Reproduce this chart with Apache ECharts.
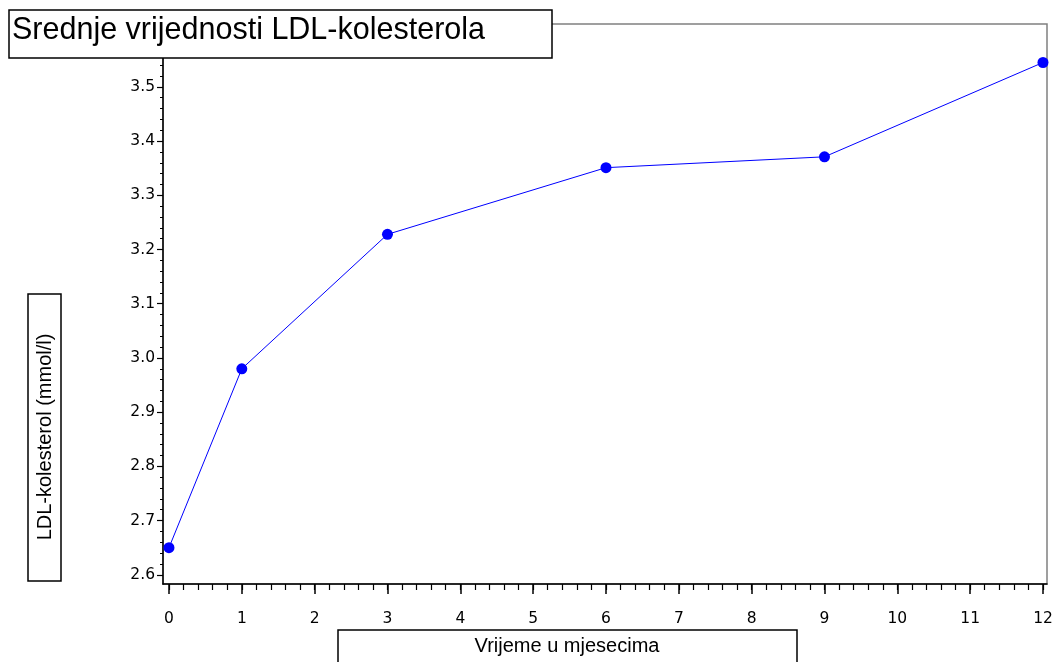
<!DOCTYPE html>
<html>
<head>
<meta charset="utf-8">
<script src="https://cdn.jsdelivr.net/npm/echarts@6/dist/echarts.min.js"></script>
<style>html,body{margin:0;padding:0;background:#fff}#c{width:1056px;height:662px}</style>
</head>
<body>
<div id="c"></div>
<script>
const titleText = 'Srednje vrijednosti LDL-kolesterola';
const xName = 'Vrijeme u mjesecima';
const yName = 'LDL-kolesterol (mmol/l)';
const months = [0, 1, 3, 6, 9, 12];
const ldl = [2.65, 2.98, 3.228, 3.351, 3.371, 3.545];
const xTicks = [0, 1, 2, 3, 4, 5, 6, 7, 8, 9, 10, 11, 12];
const yTicks = [2.6, 2.7, 2.8, 2.9, 3.0, 3.1, 3.2, 3.3, 3.4, 3.5];
const xMinorTicks = [];
for (let i = 0; i <= 60; i++) xMinorTicks.push(+(i * 0.2).toFixed(2));
const yMinorTicks = [];
for (let i = 0; i <= 50; i++) yMinorTicks.push(+(2.6 + i * 0.02).toFixed(2));

const FONT = 'Liberation Sans';
const TICKFONT = 'DejaVu Sans';
const chart = echarts.init(document.getElementById('c'));
const xMin = -0.082, xMax = 12.055, yMin = 2.583, yMax = 3.616;

chart.setOption({
  animation: false,
  title: {
    text: titleText, left: 12, top: 15, padding: 0, z: 20,
    textStyle: { fontFamily: FONT, fontSize: 30.5, fontWeight: 'normal', color: '#000' }
  },
  grid: {
    left: 163, right: 9, top: 24, bottom: 78,
    show: true, borderColor: '#808080', borderWidth: 1.5, backgroundColor: '#fff'
  },
  xAxis: [{
    type: 'value', min: xMin, max: xMax,
    axisLine: { show: true, onZero: false, lineStyle: { color: '#000', width: 1.5 } },
    axisTick: { show: true, length: 10, customValues: xTicks, lineStyle: { color: '#000', width: 1.5 } },
    axisLabel: { customValues: xTicks, margin: 27, fontFamily: TICKFONT, fontSize: 15.5, color: '#000' },
    splitLine: { show: false }
  }, {
    type: 'value', min: xMin, max: xMax, position: 'bottom',
    axisLine: { show: false, onZero: false },
    axisTick: { show: true, length: 6, customValues: xMinorTicks, lineStyle: { color: '#000', width: 1.2 } },
    axisLabel: { show: false },
    splitLine: { show: false }
  }],
  yAxis: [{
    type: 'value', min: yMin, max: yMax,
    axisLine: { show: true, onZero: false, lineStyle: { color: '#000', width: 1.5 } },
    axisTick: { show: true, length: 6, customValues: yTicks, lineStyle: { color: '#000', width: 1.2 } },
    axisLabel: { customValues: yTicks, margin: 8, fontFamily: TICKFONT, fontSize: 15.5, color: '#000',
      padding: [7, 0, 0, 0], formatter: v => v.toFixed(1) },
    splitLine: { show: false }
  }, {
    type: 'value', min: yMin, max: yMax, position: 'left',
    axisLine: { show: false, onZero: false },
    axisTick: { show: true, length: 3, customValues: yMinorTicks, lineStyle: { color: '#000', width: 1 } },
    axisLabel: { show: false },
    splitLine: { show: false }
  }],
  graphic: [
    { type: 'rect', z: 10, shape: { x: 9, y: 10, width: 543, height: 48 },
      style: { fill: '#fff', stroke: '#000', lineWidth: 1.5 } },
    { type: 'rect', z: 10, shape: { x: 28, y: 294, width: 33, height: 287 },
      style: { fill: '#fff', stroke: '#000', lineWidth: 1.5 } },
    { type: 'rect', z: 10, shape: { x: 338, y: 630, width: 459, height: 40 },
      style: { fill: '#fff', stroke: '#000', lineWidth: 1.5 } },
    { type: 'text', z: 11, x: 45, y: 437, rotation: Math.PI / 2,
      style: { text: yName, fontFamily: FONT, fontSize: 20, fill: '#000', align: 'center', verticalAlign: 'middle' } },
    { type: 'text', z: 11, x: 567, y: 646,
      style: { text: xName, fontFamily: FONT, fontSize: 20, fill: '#000', align: 'center', verticalAlign: 'middle' } }
  ],
  series: [{
    type: 'line', xAxisIndex: 0, yAxisIndex: 0,
    data: months.map((m, i) => [m, ldl[i]]),
    symbol: 'circle', symbolSize: 11,
    itemStyle: { color: '#0000ff' },
    lineStyle: { color: '#0000ff', width: 1 },
    clip: false
  }]
});
</script>
</body>
</html>
